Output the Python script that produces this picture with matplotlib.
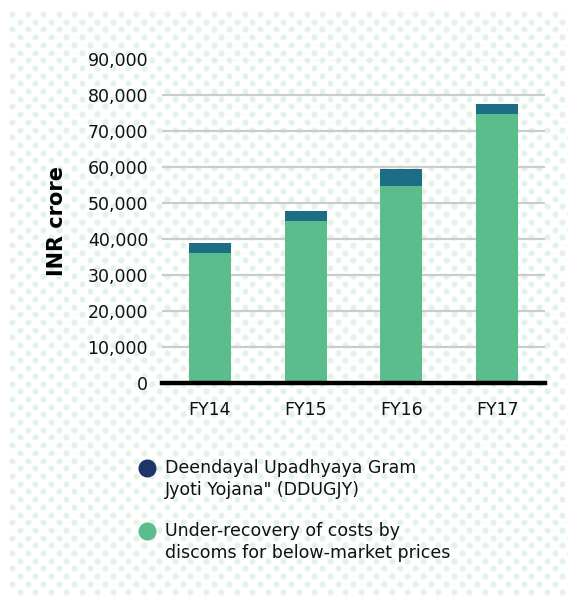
import matplotlib.pyplot as plt
import numpy as np
from matplotlib.lines import Line2D
from matplotlib.ticker import FuncFormatter

plt.rcParams["font.family"] = ["DejaVu Sans"]

# ── Data ──────────────────────────────────────────────────────────────────────
years = ["FY14", "FY15", "FY16", "FY17"]
under_recovery = [36200, 45100, 54900, 74700]
ddugjy = [2800, 2800, 4500, 3000]
yticks = [0, 10000, 20000, 30000, 40000, 50000, 60000, 70000, 80000, 90000]

legend_labels = [
    "Deendayal Upadhyaya Gram\nJyoti Yojana\" (DDUGJY)",
    "Under-recovery of costs by\ndiscoms for below-market prices",
]

GREEN = "#5bbd8c"
TEAL = "#1c6e85"
NAVY = "#1e3566"
DOT = "#e4f3e9"

W, H = 568, 601
fig = plt.figure(figsize=(W / 100, H / 100), dpi=100)

# ── Dotted background ─────────────────────────────────────────────────────────
bg = fig.add_axes([0, 0, 1, 1])
bg.set_xlim(0, W)
bg.set_ylim(H, 0)
bg.axis("off")
xs, ys = [], []
for i, y in enumerate(np.arange(14, 598, 7.7)):
    off = 0 if i % 2 == 0 else 7.75
    for x in np.arange(12 + off, W + 5, 15.5):
        xs.append(x)
        ys.append(y)
bg.scatter(xs, ys, s=20, color=DOT, linewidths=0, zorder=0)

# ── Chart ─────────────────────────────────────────────────────────────────────
ax = fig.add_axes([162 / W, 1 - 383 / H, 383 / W, (383 - 59.5) / H])
ax.patch.set_alpha(0)
x = np.arange(len(years))
ax.bar(x, under_recovery, width=0.44, color=GREEN, zorder=3)
ax.bar(x, ddugjy, width=0.44, bottom=under_recovery, color=TEAL, zorder=3)

ax.set_xlim(-0.5, 3.5)
ax.set_ylim(0, 90000)
ax.set_yticks(yticks)
ax.yaxis.set_major_formatter(FuncFormatter(lambda v, p: f"{int(v):,}"))
ax.set_xticks(x)
ax.set_xticklabels(years)
ax.grid(axis="y", color="#cccccc", linewidth=1.6, zorder=0)
ax.set_axisbelow(True)
for s in ["top", "right", "left"]:
    ax.spines[s].set_visible(False)
ax.spines["bottom"].set_linewidth(3.2)
ax.spines["bottom"].set_color("black")
ax.spines["bottom"].set_zorder(5)
ax.tick_params(axis="y", length=0, pad=10, labelsize=12.5, colors="#111111")
ax.tick_params(axis="x", length=0, pad=13, labelsize=12.5, colors="#111111")
ax.set_ylabel("INR crore", fontsize=15, fontweight="bold", labelpad=15)

# ── Legend ────────────────────────────────────────────────────────────────────
for (ypix, color, label) in [(468, NAVY, legend_labels[0]), (531, GREEN, legend_labels[1])]:
    fig.add_artist(Line2D([147 / W], [1 - ypix / H], marker="o", markersize=12,
                          color=color, linestyle="none", transform=fig.transFigure))
    fig.text(165 / W, 1 - (ypix - 9) / H, label, fontsize=12.5, color="#111111",
             va="top", ha="left", linespacing=1.3)

fig.savefig("out.png", dpi=100)
